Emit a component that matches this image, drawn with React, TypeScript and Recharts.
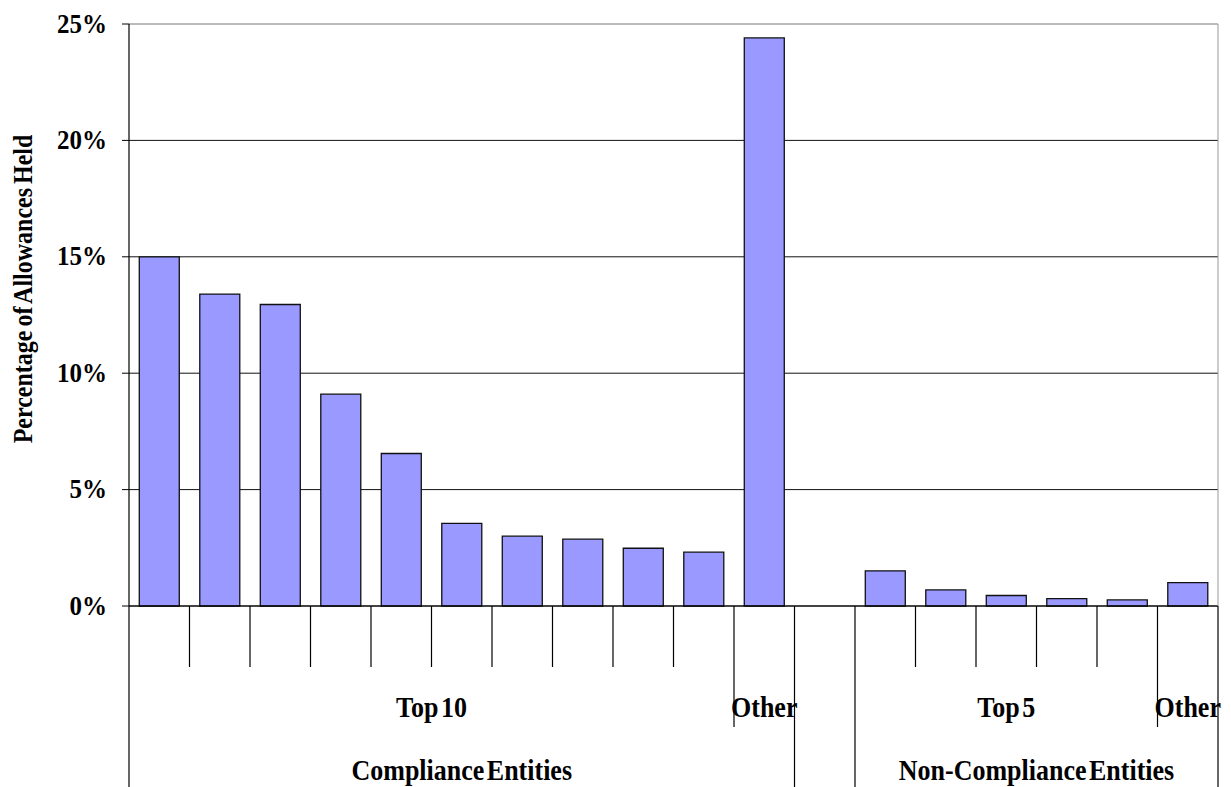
import React from "react";
import { BarChart, Bar, XAxis, YAxis, CartesianGrid } from "recharts";

// Share of allowances held, by entity group
const complianceTop10 = [15.0, 13.4, 12.95, 9.1, 6.55, 3.55, 3.0, 2.87, 2.48, 2.31];
const complianceOther = [24.4];
const spacer = [0];
const nonComplianceTop5 = [1.51, 0.69, 0.45, 0.32, 0.26];
const nonComplianceOther = [1.0];

const yTicks = [0, 5, 10, 15, 20, 25];

// second row of the category axis
const subGroups = [
  { label: "Top 10", span: 10 },
  { label: "Other", span: 1 },
  { label: "", span: 1 },
  { label: "Top 5", span: 5 },
  { label: "Other", span: 1 },
];
// third row
const mainGroups = [
  { label: "Compliance Entities", span: 11 },
  { label: "", span: 1 },
  { label: "Non-Compliance Entities", span: 6 },
];

const values = [
  ...complianceTop10,
  ...complianceOther,
  ...spacer,
  ...nonComplianceTop5,
  ...nonComplianceOther,
];
const data = values.map((v, i) => ({ slot: `c${i}`, value: v }));

const WIDTH = 1231;
const HEIGHT = 787;
const MARGIN = { top: 24, right: 13, left: 29, bottom: 0 };
const Y_AXIS_W = 100;
const X_AXIS_H = 181;
const PLOT_TOP = MARGIN.top;
const AXIS_Y = HEIGHT - MARGIN.bottom - X_AXIS_H;
const BAND = (WIDTH - MARGIN.left - MARGIN.right - Y_AXIS_W) / data.length;
const FONT = '"Liberation Serif", "Times New Roman", serif';
const STRETCH = 1.12; // the source text is drawn a little tall

function groupStarts(groups: { label: string; span: number }[]) {
  const out: Record<number, { label: string; span: number }> = {};
  let i = 0;
  groups.forEach((g) => {
    out[i] = g;
    i += g.span;
  });
  return out;
}
const subStarts = groupStarts(subGroups);
const mainStarts = groupStarts(mainGroups);

const Label = ({ x, y, children }: any) => (
  <text
    transform={`translate(${x},${y}) scale(1,${STRETCH})`}
    textAnchor="middle"
    fontFamily={FONT}
    fontWeight="bold"
    fontSize={26}
    wordSpacing={-4}
    fill="#000"
  >
    {children}
  </text>
);

const CategoryTick = (props: any) => {
  const { x, index } = props;
  const left = x - BAND / 2;
  const last = index === data.length - 1;
  let bottom = 667;
  if (mainStarts[index]) bottom = HEIGHT;
  else if (subStarts[index]) bottom = 727;
  const sub = subStarts[index];
  const main = mainStarts[index];
  return (
    <g>
      <line x1={left} y1={AXIS_Y} x2={left} y2={bottom} stroke="#000" strokeWidth={1.2} />
      {last && (
        <>
          <line x1={x + BAND / 2} y1={PLOT_TOP} x2={x + BAND / 2} y2={AXIS_Y} stroke="#999" strokeWidth={1} />
          <line x1={x + BAND / 2} y1={AXIS_Y} x2={x + BAND / 2} y2={HEIGHT} stroke="#000" strokeWidth={1.2} />
        </>
      )}
      {sub && sub.label && <Label x={left + (sub.span * BAND) / 2} y={717}>{sub.label}</Label>}
      {main && main.label && <Label x={left + (main.span * BAND) / 2} y={780}>{main.label}</Label>}
    </g>
  );
};

const PercentTick = (props: any) => {
  const { x, y, payload } = props;
  return (
    <text
      transform={`translate(${x},${y + 8.5}) scale(1,${STRETCH})`}
      textAnchor="end"
      fontFamily={FONT}
      fontWeight="bold"
      fontSize={25}
      fill="#000"
    >
      {`${payload.value}%`}
    </text>
  );
};

const GridLine = (props: any) => {
  const { x1, y1, x2, y2 } = props;
  const top = Math.abs(y1 - PLOT_TOP) < 1;
  return <line x1={x1} y1={y1} x2={x2} y2={y2} stroke={top ? "#777" : "#111"} strokeWidth={1} />;
};

export default function App() {
  return (
    <div style={{ position: "absolute", left: 0, top: 0, background: "#fff" }}>
      <BarChart width={WIDTH} height={HEIGHT} data={data} margin={MARGIN} barCategoryGap="17%">
        <CartesianGrid vertical={false} horizontal={GridLine} />
        <XAxis
          dataKey="slot"
          height={X_AXIS_H}
          tickLine={false}
          axisLine={{ stroke: "#000", strokeWidth: 1.2 }}
          tick={CategoryTick}
          interval={0}
        />
        <YAxis
          width={Y_AXIS_W}
          domain={[0, 25]}
          ticks={yTicks}
          tickSize={7}
          tickMargin={15}
          axisLine={{ stroke: "#000", strokeWidth: 1.2 }}
          tickLine={{ stroke: "#000" }}
          tick={PercentTick}
          label={{
            content: () => (
              <text
                transform={`translate(32,289) rotate(-90) scale(1,${STRETCH})`}
                textAnchor="middle"
                fontFamily={FONT}
                fontWeight="bold"
                fontSize={24}
                wordSpacing={-2}
                fill="#000"
              >
                Percentage of Allowances Held
              </text>
            ),
          }}
        />
        <Bar dataKey="value" fill="#9999FF" stroke="#111" strokeWidth={1.3} isAnimationActive={false} />
      </BarChart>
    </div>
  );
}
